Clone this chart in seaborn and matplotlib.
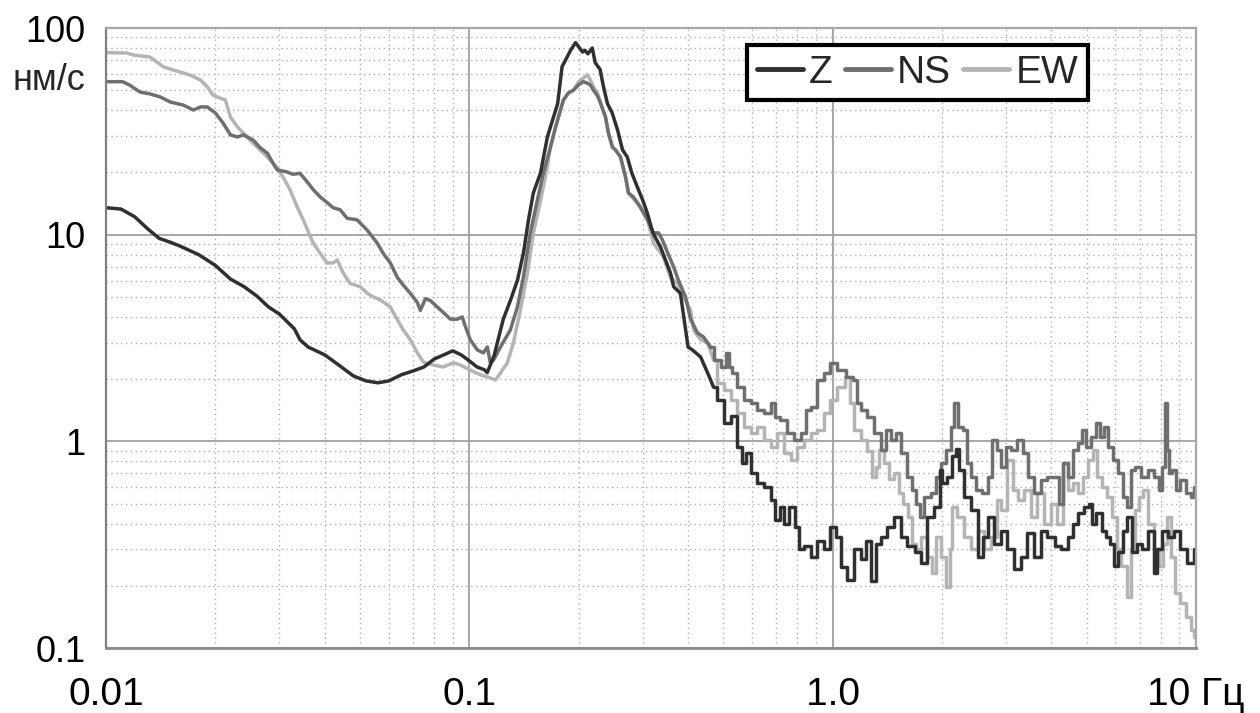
import numpy as np
import pandas as pd
import matplotlib
matplotlib.use("Agg")
import matplotlib.pyplot as plt
from matplotlib.ticker import FixedLocator, NullFormatter
import seaborn as sns

# Spectra (frequency in Hz, amplitude in nm/s)
f_z = [0.0100, 0.0110, 0.0120, 0.0130, 0.0140, 0.0150, 0.0160, 0.0180, 0.0200, 0.0220,
       0.0240, 0.0260, 0.0280, 0.0300, 0.0330, 0.0342, 0.0360, 0.0400, 0.0440, 0.0480,
       0.0520, 0.0560, 0.0600, 0.0650, 0.0700, 0.0750, 0.0800, 0.0850, 0.0900, 0.0950,
       0.1000, 0.1050, 0.1100, 0.1120, 0.1170, 0.1240, 0.1297, 0.1356, 0.1410, 0.1455,
       0.1500, 0.1570, 0.1640, 0.1670, 0.1750, 0.1800, 0.1840, 0.1900, 0.1960, 0.2000,
       0.2050, 0.2080, 0.2120, 0.2180, 0.2220, 0.2290, 0.2340, 0.2400, 0.2470, 0.2560,
       0.2640, 0.2720, 0.2800, 0.2900, 0.3000, 0.3090, 0.3200, 0.3360, 0.3580, 0.3650,
       0.3810, 0.3900, 0.4000, 0.4110, 0.4330, 0.4530, 0.4700, 0.4910, 0.5140, 0.5340,
       0.5580, 0.5710, 0.5870, 0.6070, 0.6340, 0.6620, 0.6880, 0.7020, 0.7280, 0.7400,
       0.7760, 0.8000, 0.8160, 0.8530, 0.8870, 0.9250, 0.9680, 1.003, 1.040, 1.075,
       1.120, 1.170, 1.216, 1.250, 1.300, 1.331, 1.382, 1.445, 1.510, 1.570,
       1.640, 1.720, 1.780, 1.860, 1.950, 1.990, 2.020, 2.110, 2.150, 2.210,
       2.250, 2.360, 2.450, 2.560, 2.620, 2.720, 2.850, 2.960, 3.090, 3.230,
       3.360, 3.510, 3.670, 3.810, 3.990, 4.170, 4.330, 4.530, 4.620, 4.820,
       5.040, 5.130, 5.230, 5.410, 5.590, 5.730, 5.900, 6.000, 6.210, 6.400,
       6.550, 6.750, 7.000, 7.200, 7.520, 7.760, 7.900, 8.260, 8.500, 8.900,
       9.200, 9.700, 10.00]
z = [13.5, 13.3, 12.2, 10.7, 9.6, 9.2, 8.8, 8.0, 7.1, 6.1,
     5.6, 5.05, 4.47, 4.13, 3.5, 3.1, 2.86, 2.62, 2.32, 2.07,
     1.96, 1.92, 1.96, 2.10, 2.19, 2.29, 2.50, 2.62, 2.74, 2.62,
     2.45, 2.29, 2.22, 2.15, 2.6, 3.9, 4.8, 6.0, 8.2, 11.8,
     15.9, 19.9, 29.7, 33.0, 43.0, 65.0, 70.0, 78.0, 85.0, 81.0,
     76.5, 78.0, 75.0, 80.0, 68.0, 63.0, 52.0, 43.0, 39.0, 32.0,
     25.7, 23.8, 19.9, 17.0, 14.7, 12.7, 10.2, 8.7, 6.5, 5.6,
     5.2, 3.9, 2.86, 2.77, 2.56, 2.14, 1.83, 1.58, 1.23, 1.32,
     0.94, 0.785, 0.88, 0.70, 0.63, 0.60, 0.52, 0.417, 0.48, 0.40,
     0.48, 0.385, 0.30, 0.31, 0.276, 0.33, 0.30, 0.385, 0.345, 0.247,
     0.214, 0.30, 0.27, 0.33, 0.21, 0.32, 0.345, 0.385, 0.43, 0.345,
     0.31, 0.29, 0.258, 0.43, 0.48, 0.73, 0.63, 0.67, 0.85, 0.92,
     0.73, 0.54, 0.466, 0.276, 0.345, 0.43, 0.32, 0.37, 0.30, 0.24,
     0.276, 0.36, 0.276, 0.37, 0.345, 0.31, 0.30, 0.345, 0.40, 0.45,
     0.48, 0.50, 0.40, 0.45, 0.37, 0.345, 0.32, 0.25, 0.29, 0.37,
     0.43, 0.29, 0.32, 0.30, 0.37, 0.23, 0.30, 0.37, 0.345, 0.37,
     0.30, 0.258, 0.30]

f_ns = [0.0100, 0.0111, 0.0116, 0.0124, 0.0132, 0.0141, 0.0150, 0.0163, 0.0174, 0.0182,
        0.0190, 0.0200, 0.0210, 0.0220, 0.0230, 0.0239, 0.0254, 0.0266, 0.0278, 0.0288,
        0.0296, 0.0315, 0.0327, 0.0342, 0.0358, 0.0372, 0.0389, 0.0406, 0.0422, 0.0441,
        0.0461, 0.0491, 0.0524, 0.0558, 0.0580, 0.0606, 0.0634, 0.0658, 0.0688, 0.0719,
        0.0733, 0.0757, 0.0781, 0.0816, 0.0848, 0.0887, 0.0927, 0.0956, 0.0975, 0.1006,
        0.1052, 0.1093, 0.1121, 0.1143, 0.1165, 0.1218, 0.1297, 0.1356, 0.1408, 0.1472,
        0.1539, 0.1599, 0.1672, 0.1726, 0.1781, 0.1816, 0.1874, 0.1934, 0.1997, 0.2061,
        0.2114, 0.2154, 0.2196, 0.2252, 0.2296, 0.2370, 0.2415, 0.2477, 0.2525, 0.2606,
        0.2691, 0.2742, 0.2830, 0.2958, 0.3093, 0.3213, 0.3317, 0.3402, 0.3512, 0.3648,
        0.3765, 0.3936, 0.4063, 0.4249, 0.4410, 0.4610, 0.4820, 0.5010, 0.5140, 0.5240,
        0.5340, 0.5580, 0.5830, 0.6060, 0.6340, 0.6620, 0.6880, 0.7020, 0.7330, 0.7660,
        0.8000, 0.8320, 0.8530, 0.8870, 0.9250, 0.9680, 1.003, 1.059, 1.121, 1.157,
        1.170, 1.216, 1.273, 1.331, 1.382, 1.418, 1.472, 1.510, 1.570, 1.640,
        1.671, 1.720, 1.748, 1.827, 1.897, 1.950, 2.020, 2.087, 2.140, 2.180,
        2.250, 2.320, 2.370, 2.450, 2.525, 2.620, 2.720, 2.780, 2.870, 2.960,
        3.050, 3.150, 3.300, 3.400, 3.510, 3.670, 3.810, 3.990, 4.170, 4.250,
        4.380, 4.530, 4.620, 4.820, 4.910, 5.070, 5.230, 5.370, 5.540, 5.650,
        5.830, 6.000, 6.210, 6.400, 6.550, 6.710, 6.920, 7.200, 7.520, 7.760,
        8.010, 8.160, 8.260, 8.370, 8.500, 8.700, 8.900, 9.210, 9.510, 9.810,
        10.00]
ns = [55.0, 55.0, 53.0, 49.0, 48.0, 46.4, 43.9, 42.4, 40.1, 41.5,
      41.5, 38.8, 34.7, 30.4, 29.7, 30.4, 28.7, 26.3, 24.8, 22.2,
      20.6, 20.1, 19.6, 19.8, 18.0, 16.5, 15.2, 14.3, 13.5, 13.2,
      12.0, 11.8, 10.5, 9.1, 8.1, 7.3, 6.2, 5.7, 5.2, 4.7,
      4.3, 4.9, 4.8, 4.47, 4.2, 3.9, 3.9, 4.0, 3.6, 3.1,
      2.77, 2.68, 2.86, 2.39, 2.47, 2.86, 3.46, 4.47, 6.2, 10.2,
      14.7, 19.9, 26.5, 33.0, 40.0, 44.9, 48.5, 50.0, 53.0, 55.0,
      54.0, 53.0, 50.0, 47.0, 43.4, 37.1, 31.0, 26.5, 25.7, 23.8,
      19.0, 15.9, 15.2, 13.6, 11.8, 10.2, 10.2, 9.4, 8.2, 7.0,
      6.0, 5.0, 3.9, 3.34, 3.2, 2.86, 2.48, 2.29, 2.68, 2.29,
      2.14, 1.83, 1.58, 1.53, 1.42, 1.37, 1.53, 1.31, 1.27, 1.10,
      1.02, 1.10, 1.42, 1.47, 1.98, 2.14, 2.39, 2.22, 2.05, 1.98,
      1.53, 1.42, 1.31, 1.10, 0.91, 1.14, 1.02, 1.10, 0.88, 0.67,
      0.58, 0.50, 0.43, 0.54, 0.56, 0.67, 0.785, 0.91, 1.17, 1.53,
      1.17, 1.14, 0.785, 0.67, 0.58, 0.56, 0.67, 1.02, 0.91, 0.75,
      0.94, 0.91, 1.02, 0.88, 0.67, 0.56, 0.65, 0.67, 0.67, 0.50,
      0.785, 0.67, 0.91, 0.98, 1.14, 0.94, 1.05, 1.23, 1.05, 1.17,
      0.94, 0.81, 0.70, 0.54, 0.48, 0.73, 0.75, 0.67, 0.73, 0.67,
      0.58, 0.75, 1.53, 0.91, 0.70, 0.73, 0.58, 0.65, 0.56, 0.54,
      0.60]

f_ew = [0.0100, 0.0114, 0.0119, 0.0132, 0.0138, 0.0144, 0.0153, 0.0163, 0.0170, 0.0182,
        0.0190, 0.0197, 0.0206, 0.0213, 0.0220, 0.0230, 0.0239, 0.0249, 0.0261, 0.0271,
        0.0283, 0.0296, 0.0307, 0.0321, 0.0336, 0.0349, 0.0365, 0.0372, 0.0389, 0.0406,
        0.0422, 0.0433, 0.0450, 0.0470, 0.0501, 0.0524, 0.0544, 0.0569, 0.0606, 0.0634,
        0.0658, 0.0688, 0.0719, 0.0747, 0.0796, 0.0848, 0.0904, 0.0945, 0.1006, 0.1072,
        0.1121, 0.1180, 0.1218, 0.1273, 0.1322, 0.1382, 0.1445, 0.1501, 0.1571, 0.1640,
        0.1672, 0.1726, 0.1781, 0.1816, 0.1874, 0.1934, 0.1997, 0.2061, 0.2114, 0.2154,
        0.2196, 0.2252, 0.2296, 0.2370, 0.2415, 0.2477, 0.2525, 0.2606, 0.2691, 0.2742,
        0.2902, 0.3093, 0.3213, 0.3422, 0.3578, 0.3741, 0.3886, 0.4063, 0.4142, 0.4330,
        0.4530, 0.4700, 0.4910, 0.5140, 0.5340, 0.5580, 0.5830, 0.6060, 0.6340, 0.6620,
        0.6880, 0.7190, 0.7520, 0.7810, 0.8160, 0.8530, 0.8870, 0.9250, 0.9680, 1.003,
        1.059, 1.107, 1.121, 1.170, 1.216, 1.273, 1.300, 1.331, 1.356, 1.418,
        1.445, 1.510, 1.540, 1.589, 1.640, 1.671, 1.720, 1.780, 1.860, 1.897,
        1.950, 2.020, 2.087, 2.110, 2.150, 2.250, 2.360, 2.450, 2.560, 2.670,
        2.780, 2.870, 2.960, 3.090, 3.190, 3.300, 3.440, 3.580, 3.740, 3.910,
        4.060, 4.250, 4.380, 4.530, 4.670, 4.820, 4.980, 5.130, 5.300, 5.410,
        5.590, 5.760, 5.950, 6.140, 6.330, 6.550, 6.710, 6.920, 7.040, 7.280,
        7.520, 7.760, 8.010, 8.260, 8.430, 8.640, 8.900, 9.210, 9.510, 9.810,
        10.00]
ew = [76.0, 75.7, 74.0, 72.4, 68.5, 64.8, 62.7, 60.6, 59.3, 56.0,
      51.9, 47.4, 45.8, 44.9, 37.1, 33.2, 31.0, 28.7, 26.5, 24.8,
      23.0, 21.0, 19.0, 16.5, 13.6, 11.8, 9.8, 9.1, 8.1, 7.3,
      7.3, 7.55, 6.5, 5.8, 5.6, 5.2, 5.0, 4.83, 4.47, 3.87,
      3.46, 3.1, 2.68, 2.42, 2.34, 2.29, 2.40, 2.34, 2.21, 2.10,
      2.05, 1.98, 2.14, 2.40, 2.99, 4.32, 6.5, 10.2, 14.7, 21.3,
      26.5, 33.0, 40.0, 44.9, 48.5, 50.0, 54.8, 57.3, 59.3, 56.0,
      51.9, 48.5, 43.4, 37.1, 31.0, 26.5, 25.7, 23.8, 19.0, 15.9,
      14.2, 11.8, 9.1, 7.8, 6.2, 5.8, 5.0, 4.32, 3.46, 3.1,
      2.99, 2.48, 1.92, 1.77, 1.58, 1.37, 1.17, 1.10, 1.17, 1.02,
      0.94, 1.10, 0.88, 0.81, 0.94, 1.02, 1.10, 1.14, 1.37, 1.58,
      1.83, 2.05, 1.53, 1.14, 1.02, 0.90, 0.67, 0.75, 0.91, 0.785,
      0.66, 0.70, 0.56, 0.50, 0.43, 0.32, 0.30, 0.345, 0.276, 0.23,
      0.345, 0.276, 0.198, 0.30, 0.48, 0.43, 0.345, 0.30, 0.37, 0.30,
      0.345, 0.52, 0.466, 0.81, 0.58, 0.52, 0.58, 0.43, 0.56, 0.40,
      0.50, 0.40, 0.785, 0.58, 0.63, 0.56, 0.67, 0.81, 0.91, 0.67,
      0.60, 0.54, 0.43, 0.30, 0.25, 0.177, 0.30, 0.466, 0.54, 0.58,
      0.40, 0.30, 0.25, 0.32, 0.43, 0.276, 0.185, 0.165, 0.141, 0.122,
      0.113]

components = ['Z', 'NS', 'EW']
colors = ['#303030', '#6f6f6f', '#b4b4b4']
x_ticks = [0.01, 0.1, 1.0, 10.0]
x_ticklabels = ['0.01', '0.1', '1.0', '10 Гц']
y_ticks = [0.1, 1, 10, 100]
y_ticklabels = ['0.1', '1', '10', '100']

df = pd.concat([
    pd.DataFrame({'f': f_z, 'amp': z, 'comp': 'Z'}),
    pd.DataFrame({'f': f_ns, 'amp': ns, 'comp': 'NS'}),
    pd.DataFrame({'f': f_ew, 'amp': ew, 'comp': 'EW'}),
], ignore_index=True)

sns.set_theme(style='white')
plt.rcParams['font.family'] = ['Liberation Sans', 'DejaVu Sans']

fig = plt.figure(figsize=(12.6, 7.13), dpi=100)
ax = fig.add_axes([106 / 1260, 1 - 648 / 713, 1090 / 1260, 620 / 713])

# smooth low-frequency part as a plain line, noisy high-frequency tail as steps
split = 0.45
for comp in ['EW', 'NS', 'Z']:
    sub = df[df['comp'] == comp]
    col = colors[components.index(comp)]
    low = sub[sub['f'] <= split * 1.05]
    high = sub[sub['f'] >= low['f'].iloc[-1]]
    sns.lineplot(data=low, x='f', y='amp', ax=ax, color=col, linewidth=2.5,
                 sort=False, estimator=None, legend=False)
    sns.lineplot(data=high, x='f', y='amp', ax=ax, color=col, linewidth=2.5,
                 sort=False, estimator=None, legend=False, drawstyle='steps-mid')

ax.set_xscale('log')
ax.set_yscale('log')
ax.set_xlim(0.01, 10)
ax.set_ylim(0.1, 100)

minor_x = [m * d for d in [0.01, 0.1, 1.0] for m in range(2, 10)]
minor_y = [m * d for d in [0.1, 1, 10] for m in range(2, 10)]
ax.xaxis.set_major_locator(FixedLocator(x_ticks))
ax.yaxis.set_major_locator(FixedLocator(y_ticks))
ax.xaxis.set_minor_locator(FixedLocator(minor_x))
ax.yaxis.set_minor_locator(FixedLocator(minor_y))
ax.xaxis.set_minor_formatter(NullFormatter())
ax.yaxis.set_minor_formatter(NullFormatter())
ax.set_xticklabels(x_ticklabels, fontsize=28)
ax.set_yticklabels(y_ticklabels, fontsize=26)

ax.grid(which='major', color='#a0a0a0', linewidth=1.3, linestyle='-')
ax.grid(which='minor', color='#b0b0b0', linewidth=1.0, linestyle=(0, (1, 2.5)))
ax.set_axisbelow(True)

ax.tick_params(axis='x', which='major', direction='out', length=11, width=1.0,
               color='#808080', pad=10, labelcolor='black')
ax.tick_params(axis='y', which='major', direction='out', length=6.5, width=2.2,
               color='black', pad=8, labelcolor='black')
ax.tick_params(which='minor', length=0)

for side in ['top', 'right']:
    ax.spines[side].set_color('#a8a8a8')
    ax.spines[side].set_linewidth(1.6)
ax.spines['left'].set_color('#808080')
ax.spines['left'].set_linewidth(1.6)
ax.spines['bottom'].set_color('#8a8a8a')
ax.spines['bottom'].set_linewidth(2.0)

ax.set_xlabel('')
ax.set_ylabel('')

fig.text(85 / 1260, 1 - 81 / 713, 'нм/с', ha='right', va='center', fontsize=26)

handles = [plt.Line2D([], [], color=c, linewidth=3.5) for c in colors]
leg = ax.legend(handles, components, loc='upper left',
                bbox_to_anchor=((747 - 106) / 1090, 1 - (45 - 28) / 620),
                ncol=3, handlelength=1.2, handletextpad=0.15,
                columnspacing=0.3, borderpad=0.25, borderaxespad=0,
                frameon=True, fancybox=False, framealpha=1,
                prop={'family': 'Liberation Sans', 'size': 28})
leg.get_frame().set_edgecolor('black')
leg.get_frame().set_linewidth(3)

fig.savefig('out.png', dpi=100)
